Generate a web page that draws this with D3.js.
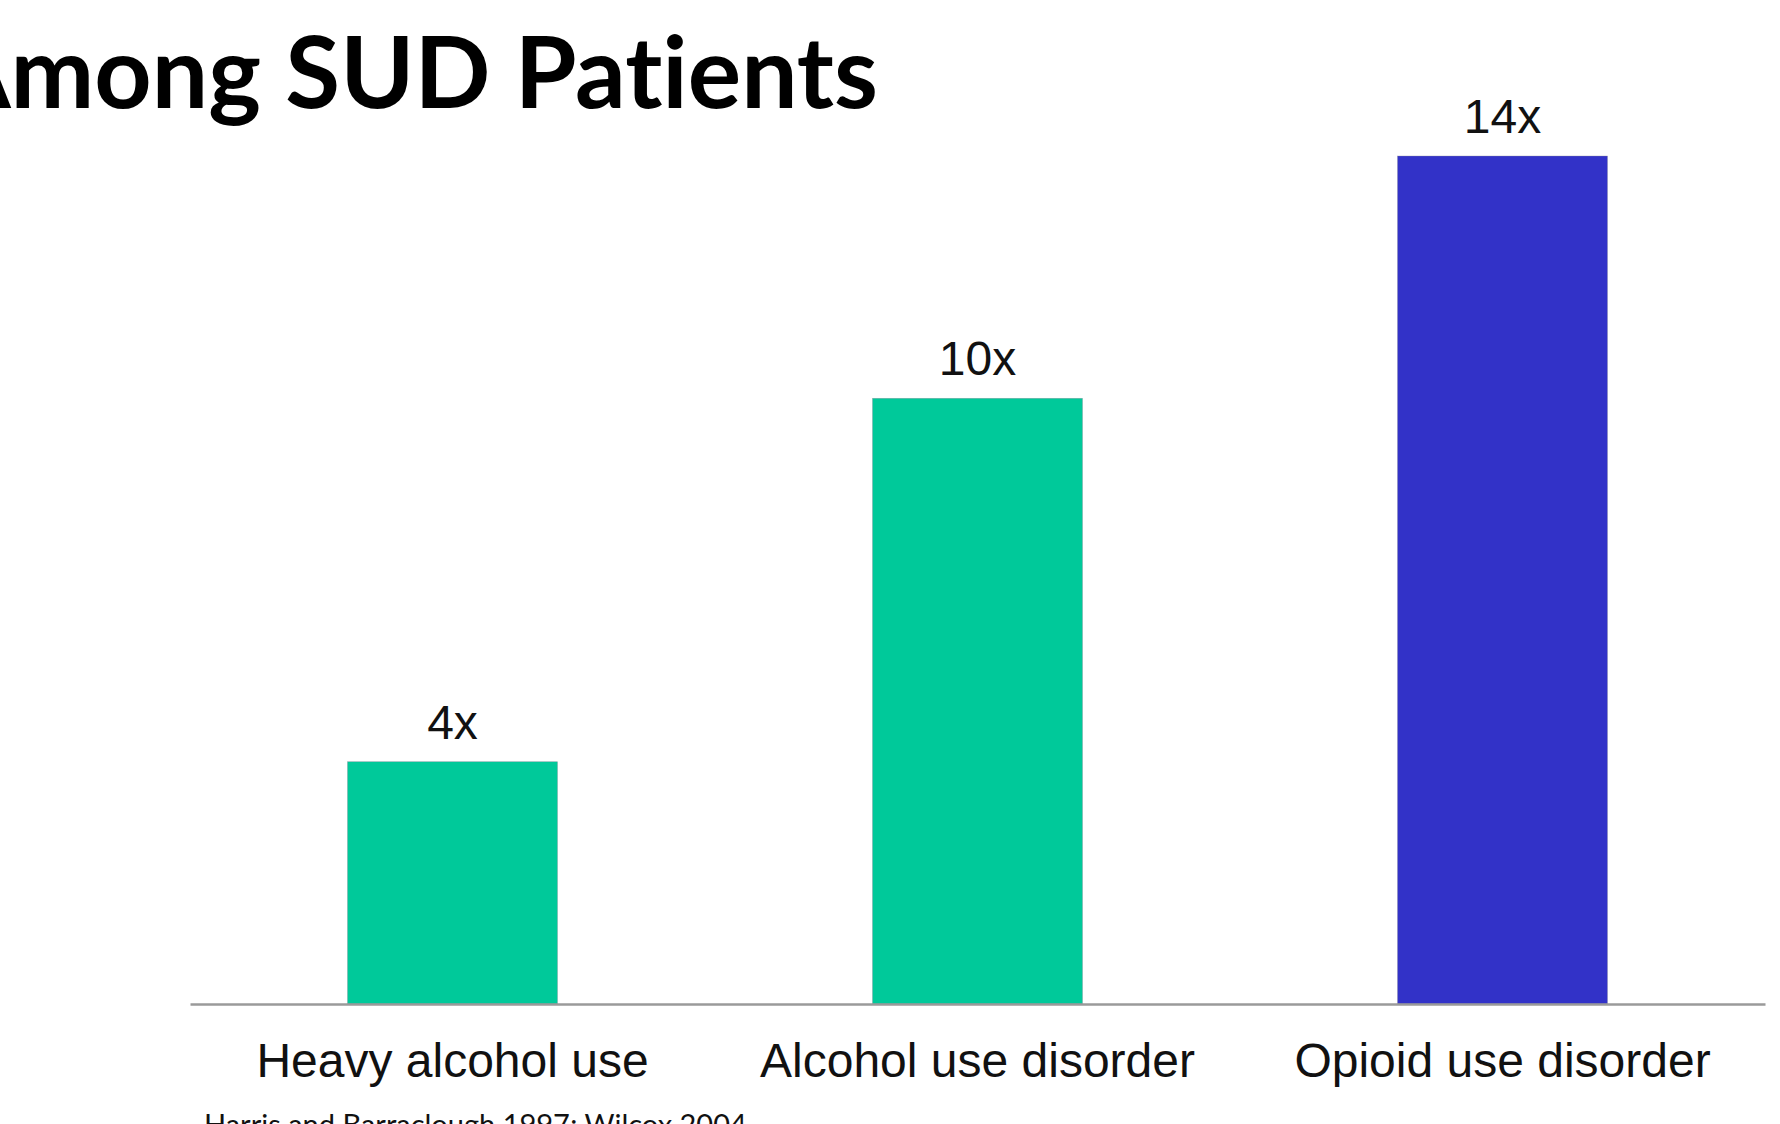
<!DOCTYPE html>
<html lang="en">
<head>
<meta charset="utf-8">
<title>Among SUD Patients</title>
<script src="https://d3js.org/d3.v7.min.js"></script>
<style>
  html, body { margin: 0; padding: 0; background: #ffffff; overflow: hidden; }
</style>
</head>
<body>
<script>
// chart data
const categories = ["Heavy alcohol use", "Alcohol use disorder", "Opioid use disorder"];
const values = [4, 10, 14];
const valueLabels = ["4x", "10x", "14x"];
const barColors = ["#00c99a", "#00c99a", "#3232c8"];
const titleText = "Among SUD Patients";
const sourceText = "Harris and Barraclough 1997; Wilcox 2004";

const W = 1780, H = 1124;
const baseY = 1004, topY = 156;

const svg = d3.select("body").append("svg")
    .attr("width", W)
    .attr("height", H);

// scales
const x = d3.scaleBand()
    .domain(categories)
    .range([190, 1765])
    .paddingInner(0.6)
    .paddingOuter(0.3);

const y = d3.scaleLinear()
    .domain([0, 14])
    .range([baseY, topY]);

// bars
svg.append("g")
    .selectAll("rect")
    .data(categories)
    .enter().append("rect")
    .attr("x", d => x(d))
    .attr("y", (d, i) => y(values[i]))
    .attr("width", x.bandwidth())
    .attr("height", (d, i) => baseY - y(values[i]))
    .style("fill", (d, i) => barColors[i])
    .style("stroke", "#8a8a9a")
    .style("stroke-width", 0.6)
    .style("stroke-opacity", 0.6);

// value labels above bars
svg.append("g")
    .selectAll("text")
    .data(categories)
    .enter().append("text")
    .attr("x", d => x(d) + x.bandwidth() / 2)
    .attr("y", (d, i) => y(values[i]) - 23)
    .attr("text-anchor", "middle")
    .style("font-family", "'Liberation Sans', Arial, sans-serif")
    .style("font-size", "48px")
    .style("fill", "#111")
    .text((d, i) => valueLabels[i]);

// x axis
const xAxis = d3.axisBottom(x).tickSize(0).tickSizeOuter(0).tickPadding(39);
const gx = svg.append("g")
    .attr("transform", "translate(0," + baseY + ")")
    .call(xAxis);
gx.select(".domain")
    .style("stroke", "#9a9a9a")
    .style("stroke-width", 2.5);
gx.selectAll("text")
    .style("font-family", "'Liberation Sans', Arial, sans-serif")
    .style("font-size", "48px")
    .style("fill", "#111");

// title (cut at the left edge, as in the slide)
svg.append("text")
    .attr("x", 878)
    .attr("y", 108)
    .attr("text-anchor", "end")
    .style("font-family", "Lato, sans-serif")
    .style("font-weight", "bold")
    .style("font-size", "100px")
    .style("font-variant-ligatures", "none")
    .style("fill", "#000")
    .text(titleText);

// source line, mostly below the bottom edge
svg.append("text")
    .attr("x", 204)
    .attr("y", 1135)
    .style("font-family", "Lato, sans-serif")
    .style("font-size", "29px")
    .style("fill", "#111")
    .text(sourceText);
</script>
</body>
</html>
